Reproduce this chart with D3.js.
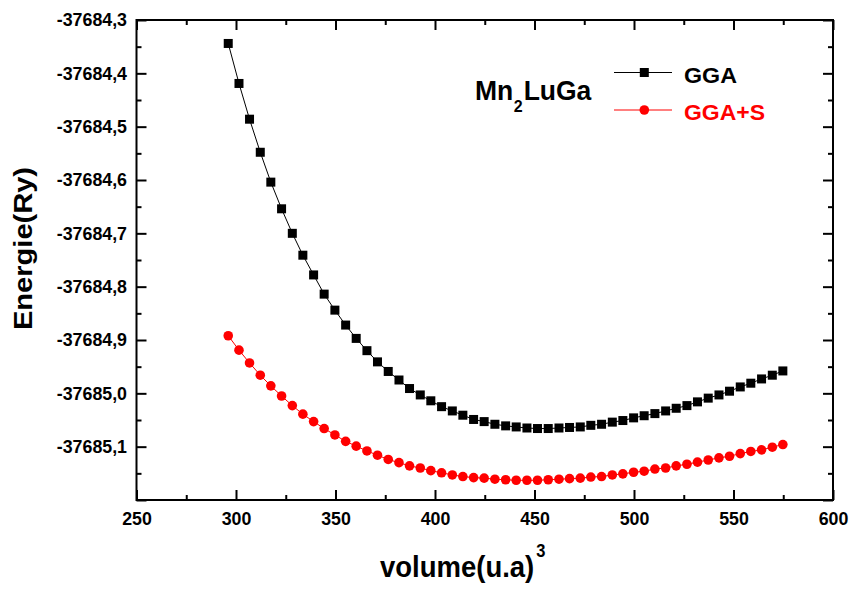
<!DOCTYPE html>
<html>
<head>
<meta charset="utf-8">
<script src="https://cdn.jsdelivr.net/npm/d3@7"></script>
<style>
  html, body { margin: 0; padding: 0; background: #fff; }
  svg { display: block; }
  text { font-family: "Liberation Sans", Arial, Helvetica, sans-serif; font-weight: bold; }
</style>
</head>
<body>
<svg id="chart" width="853" height="589"></svg>
<script>
// ---------------- data ----------------
const volume = [296.1, 301.5, 306.8, 312.2, 317.5, 322.9, 328.3, 333.6, 339.0, 344.3,
  349.7, 355.1, 360.4, 365.8, 371.1, 376.5, 381.9, 387.2, 392.6, 397.9,
  403.3, 408.7, 414.0, 419.4, 424.7, 430.1, 435.5, 440.8, 446.2, 451.5,
  456.9, 462.3, 467.6, 473.0, 478.3, 483.7, 489.1, 494.4, 499.8, 505.1,
  510.5, 515.9, 521.2, 526.6, 531.9, 537.3, 542.7, 548.0, 553.4, 558.7,
  564.1, 569.5, 574.8];

const energyGGA = [-37684.344, -37684.419, -37684.486, -37684.548, -37684.604, -37684.654,
  -37684.700, -37684.741, -37684.778, -37684.814, -37684.844, -37684.872, -37684.897,
  -37684.920, -37684.941, -37684.959, -37684.975, -37684.991, -37685.003, -37685.014,
  -37685.025, -37685.033, -37685.041, -37685.049, -37685.053, -37685.058, -37685.061,
  -37685.063, -37685.065, -37685.066, -37685.066, -37685.065, -37685.064, -37685.063,
  -37685.060, -37685.058, -37685.054, -37685.051, -37685.046, -37685.042, -37685.038,
  -37685.033, -37685.028, -37685.023, -37685.016, -37685.009, -37685.003, -37684.996,
  -37684.988, -37684.981, -37684.973, -37684.966, -37684.958];

const energyGGAS = [-37684.892, -37684.919, -37684.943, -37684.966, -37684.986, -37685.005,
  -37685.023, -37685.039, -37685.053, -37685.066, -37685.078, -37685.090, -37685.099,
  -37685.108, -37685.116, -37685.124, -37685.130, -37685.136, -37685.140, -37685.145,
  -37685.149, -37685.153, -37685.156, -37685.158, -37685.159, -37685.161, -37685.162,
  -37685.163, -37685.163, -37685.163, -37685.162, -37685.161, -37685.160, -37685.159,
  -37685.157, -37685.156, -37685.153, -37685.151, -37685.148, -37685.146, -37685.142,
  -37685.140, -37685.136, -37685.133, -37685.129, -37685.125, -37685.121, -37685.118,
  -37685.113, -37685.109, -37685.106, -37685.101, -37685.096];

const seriesNames = ["GGA", "GGA+S"];
const compoundLabel = ["Mn", "2", "LuGa"];
const xTitle = ["volume(u.a)", "3"];
const yTitle = "Energie(Ry)";

const xDomain = [250, 600];
const yDomain = [-37685.2, -37684.3];
const xMajorTicks = [250, 300, 350, 400, 450, 500, 550, 600];
const xMinorTicks = [275, 325, 375, 425, 475, 525, 575];
const yMajorTicks = [-37685.2, -37685.1, -37685.0, -37684.9, -37684.8, -37684.7, -37684.6, -37684.5, -37684.4, -37684.3];
const yMinorTicks = [-37685.15, -37685.05, -37684.95, -37684.85, -37684.75, -37684.65, -37684.55, -37684.45, -37684.35];
const yLabeledTicks = [-37685.1, -37685.0, -37684.9, -37684.8, -37684.7, -37684.6, -37684.5, -37684.4, -37684.3];

// ---------------- layout ----------------
const L = 136.5, R = 833, T = 20, B = 500;
const svg = d3.select("#chart");

const x = d3.scaleLinear().domain(xDomain).range([L, R]);
const y = d3.scaleLinear().domain(yDomain).range([B, T]);

const fmtY = v => d3.format(".1f")(v).replace(".", ",").replace("\u2212", "-");

function styleAxis(g, labelSize) {
  g.select(".domain").remove();
  g.selectAll(".tick line").attr("stroke", "#000").attr("stroke-width", 2);
  g.selectAll(".tick text").attr("fill", "#000").attr("font-size", labelSize)
    .attr("font-family", '"Liberation Sans", Arial, sans-serif').attr("font-weight", "bold");
}

const LBL = 17.8;

// bottom axis
const gB = svg.append("g").attr("transform", `translate(0,${B})`)
  .call(d3.axisBottom(x).tickValues(xMajorTicks).tickSizeInner(-10).tickSizeOuter(0).tickPadding(12).tickFormat(d3.format("d")));
styleAxis(gB, LBL);
const gBm = svg.append("g").attr("transform", `translate(0,${B})`)
  .call(d3.axisBottom(x).tickValues(xMinorTicks).tickSizeInner(-5).tickSizeOuter(0).tickFormat(""));
styleAxis(gBm, LBL);

// top axis
const gT = svg.append("g").attr("transform", `translate(0,${T})`)
  .call(d3.axisTop(x).tickValues(xMajorTicks).tickSizeInner(-10).tickSizeOuter(0).tickFormat(""));
styleAxis(gT, LBL);
const gTm = svg.append("g").attr("transform", `translate(0,${T})`)
  .call(d3.axisTop(x).tickValues(xMinorTicks).tickSizeInner(-5).tickSizeOuter(0).tickFormat(""));
styleAxis(gTm, LBL);

// left axis
const gL = svg.append("g").attr("transform", `translate(${L},0)`)
  .call(d3.axisLeft(y).tickValues(yMajorTicks).tickSizeInner(-10).tickSizeOuter(0).tickPadding(9.5)
    .tickFormat(v => yLabeledTicks.some(t => Math.abs(t - v) < 1e-6) ? fmtY(v) : ""));
styleAxis(gL, LBL);
const gLm = svg.append("g").attr("transform", `translate(${L},0)`)
  .call(d3.axisLeft(y).tickValues(yMinorTicks).tickSizeInner(-5).tickSizeOuter(0).tickFormat(""));
styleAxis(gLm, LBL);

// right axis
const gR = svg.append("g").attr("transform", `translate(${R},0)`)
  .call(d3.axisRight(y).tickValues(yMajorTicks).tickSizeInner(-10).tickSizeOuter(0).tickFormat(""));
styleAxis(gR, LBL);
const gRm = svg.append("g").attr("transform", `translate(${R},0)`)
  .call(d3.axisRight(y).tickValues(yMinorTicks).tickSizeInner(-5).tickSizeOuter(0).tickFormat(""));
styleAxis(gRm, LBL);

// frame
svg.append("rect").attr("x", L).attr("y", T).attr("width", R - L).attr("height", B - T)
  .attr("fill", "none").attr("stroke", "#000").attr("stroke-width", 2);

// ---------------- series ----------------
const line = d3.line().x(d => x(d[0])).y(d => y(d[1]));
const ggaData = volume.map((v, i) => [v, energyGGA[i]]);
const ggasData = volume.map((v, i) => [v, energyGGAS[i]]);

svg.append("path").datum(ggaData).attr("d", line)
  .attr("fill", "none").attr("stroke", "#000").attr("stroke-width", 1);
svg.append("path").datum(ggasData).attr("d", line)
  .attr("fill", "none").attr("stroke", "#ff0000").attr("stroke-width", 1);

const sq = 9;
svg.append("g").selectAll("rect").data(ggaData).join("rect")
  .attr("x", d => x(d[0]) - sq / 2).attr("y", d => y(d[1]) - sq / 2)
  .attr("width", sq).attr("height", sq).attr("fill", "#000");

svg.append("g").selectAll("circle").data(ggasData).join("circle")
  .attr("cx", d => x(d[0])).attr("cy", d => y(d[1])).attr("r", 4.8).attr("fill", "#ff0000");

// ---------------- legend ----------------
const lg = svg.append("g");
// GGA
lg.append("line").attr("x1", 614).attr("x2", 672).attr("y1", 72.5).attr("y2", 72.5)
  .attr("stroke", "#000").attr("stroke-width", 1);
lg.append("rect").attr("x", 644.3 - sq / 2).attr("y", 72.5 - sq / 2).attr("width", sq).attr("height", sq).attr("fill", "#000");
lg.append("text").attr("x", 684).attr("y", 82.5).attr("font-size", 22.5)
  .attr("textLength", 53).attr("lengthAdjust", "spacingAndGlyphs").attr("fill", "#000").text(seriesNames[0]);
// GGA+S
lg.append("line").attr("x1", 614).attr("x2", 672).attr("y1", 110).attr("y2", 110)
  .attr("stroke", "#ff0000").attr("stroke-width", 1);
lg.append("circle").attr("cx", 644.3).attr("cy", 110).attr("r", 4.8).attr("fill", "#ff0000");
lg.append("text").attr("x", 684).attr("y", 120).attr("font-size", 22.5)
  .attr("textLength", 81).attr("lengthAdjust", "spacingAndGlyphs").attr("fill", "#ff0000").text(seriesNames[1]);

// compound label (single text with subscript)
const comp = svg.append("text").attr("transform", "translate(475,100) scale(1,1.05)").attr("font-size", 26.5);
comp.append("tspan").text(compoundLabel[0]);
comp.append("tspan").attr("font-size", 16).attr("dy", 11).attr("dx", 0.5).text(compoundLabel[1]);
comp.append("tspan").attr("dy", -11).attr("dx", 1).text(compoundLabel[2]);

// ---------------- titles ----------------
const xt = svg.append("text").attr("transform", "translate(380,577) scale(1,1.06)").attr("font-size", 27.5);
xt.append("tspan").text(xTitle[0]);
xt.append("tspan").attr("font-size", 16.5).attr("dx", 2).attr("dy", -19).text(xTitle[1]);

svg.append("text").attr("transform", "translate(32,248.5) rotate(-90)")
  .attr("text-anchor", "middle").attr("font-size", 26)
  .attr("textLength", 163).attr("lengthAdjust", "spacingAndGlyphs").text(yTitle);
</script>
</body>
</html>
